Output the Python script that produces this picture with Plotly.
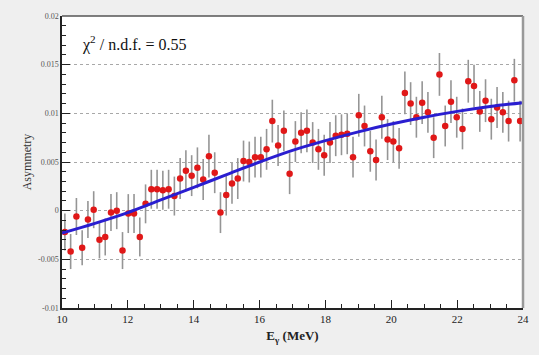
import plotly.graph_objects as go

# Data
energy_start = 10.0875
bin_width = 0.175
asym = [
    -0.0022, -0.0042, -0.0006, -0.0038, -0.0009, 0.0001, -0.0030, -0.0027, -0.0002, 0.0000,
    -0.0041, -0.0003, -0.0003, -0.0027, 0.0007, 0.0022, 0.0022, 0.0021, 0.0022, 0.0015,
    0.0033, 0.0041, 0.0036, 0.0044, 0.0032, 0.0056, 0.0039, -0.0002, 0.0016, 0.0028,
    0.0033, 0.0051, 0.0050, 0.0055, 0.0055, 0.0063, 0.0092, 0.0067, 0.0082, 0.0038,
    0.0071, 0.0080, 0.0082, 0.0070, 0.0063, 0.0057, 0.0070, 0.0077, 0.0078, 0.0079,
    0.0055, 0.0098, 0.0087, 0.0061, 0.0052, 0.0096, 0.0073, 0.0071, 0.0064, 0.0121,
    0.0110, 0.0096, 0.0111, 0.0101, 0.0075, 0.0140, 0.0087, 0.0112, 0.0096, 0.0084,
    0.0133, 0.0128, 0.0102, 0.0113, 0.0094, 0.0106, 0.0101, 0.0092, 0.0134, 0.0092,
]
asym_err = [
    0.0019, 0.0018, 0.0019, 0.0018, 0.0019, 0.0019, 0.0019, 0.0019, 0.0019, 0.0019,
    0.0019, 0.0020, 0.0020, 0.0020, 0.0020, 0.0020, 0.0020, 0.0020, 0.0020, 0.0020,
    0.0021, 0.0021, 0.0021, 0.0021, 0.0021, 0.0022, 0.0021, 0.0021, 0.0021, 0.0021,
    0.0021, 0.0021, 0.0021, 0.0021, 0.0021, 0.0021, 0.0022, 0.0021, 0.0021, 0.0021,
    0.0021, 0.0021, 0.0022, 0.0021, 0.0021, 0.0021, 0.0021, 0.0021, 0.0021, 0.0021,
    0.0021, 0.0022, 0.0021, 0.0021, 0.0021, 0.0022, 0.0021, 0.0021, 0.0021, 0.0022,
    0.0022, 0.0021, 0.0022, 0.0021, 0.0021, 0.0022, 0.0021, 0.0022, 0.0021, 0.0021,
    0.0022, 0.0022, 0.0021, 0.0022, 0.0021, 0.0021, 0.0021, 0.0021, 0.0022, 0.0021,
]
energy = [round(energy_start + i * bin_width, 4) for i in range(len(asym))]

fit_x = [10, 11, 12, 13, 14, 15, 16, 17, 18, 19, 20, 21, 22, 23, 24]
fit_y = [-0.0023, -0.0013, -0.0002, 0.0011, 0.0024, 0.0037, 0.0050, 0.0062,
         0.0072, 0.0081, 0.0089, 0.0096, 0.0102, 0.0107, 0.0111]

y_ticks = [-0.01, -0.005, 0, 0.005, 0.01, 0.015, 0.02]
y_tick_text = ["-0.01", "-0.005", "0", "0.005", "0.01", "0.015", "0.02"]
x_ticks = [10, 12, 14, 16, 18, 20, 22, 24]

SERIF = "Liberation Serif, Times New Roman, serif"

fig = go.Figure()
fig.add_trace(go.Scatter(
    x=energy, y=asym, mode="markers",
    marker=dict(color="#e01818", size=6.5, line=dict(width=0)),
    error_y=dict(type="data", array=asym_err, color="#959595", thickness=1.6, width=0),
    showlegend=False,
))
fig.add_trace(go.Scatter(
    x=fit_x, y=fit_y, mode="lines", line=dict(color="#2a1ed0", width=3, shape="spline"),
    showlegend=False,
))

fig.update_layout(
    width=539, height=355,
    margin=dict(l=62, r=10, t=16, b=47),
    paper_bgcolor="#efefef",
    plot_bgcolor="#ffffff",
    font=dict(family=SERIF, color="#333333"),
    xaxis=dict(
        range=[10, 24], tickvals=x_ticks, ticks="inside", ticklen=8, tickwidth=1.2,
        tickcolor="#222", showline=True, linecolor="#222", linewidth=1.5,
        showgrid=False, zeroline=False,
        minor=dict(dtick=0.5, ticks="inside", ticklen=4, tickcolor="#222", showgrid=False),
        tickfont=dict(size=11, family=SERIF, color="#222"),
        title=dict(text="<b>E<sub>γ</sub> (MeV)</b>", font=dict(size=13, family=SERIF, color="#222"), standoff=7),
    ),
    yaxis=dict(
        range=[-0.01, 0.02], tickvals=y_ticks, ticktext=y_tick_text, ticks="inside", ticklen=8,
        tickwidth=1.2, tickcolor="#222", showline=True, linecolor="#222", linewidth=1.5,
        showgrid=True, gridcolor="#a8a8a8", griddash="dot", gridwidth=1, zeroline=False,
        minor=dict(dtick=0.001, ticks="inside", ticklen=4, tickcolor="#222", showgrid=False),
        tickfont=dict(size=8, family=SERIF, color="#555"),
        title=dict(text="Asymmetry", font=dict(size=12, family=SERIF, color="#333"), standoff=4),
    ),
    shapes=[
        dict(type="line", xref="paper", yref="paper", x0=0, x1=1, y0=1, y1=1,
             line=dict(color="#555", width=1.5)),
        dict(type="line", xref="paper", yref="paper", x0=1, x1=1, y0=0, y1=1,
             line=dict(color="#999", width=2.5)),
    ],
    annotations=[
        dict(text="χ<sup>2</sup> / n.d.f. = 0.55", xref="paper", yref="paper",
             x=0.04, y=0.905, xanchor="left", yanchor="middle", showarrow=False,
             font=dict(size=16, family=SERIF, color="#111")),
    ],
)

fig.write_html("out.html")
